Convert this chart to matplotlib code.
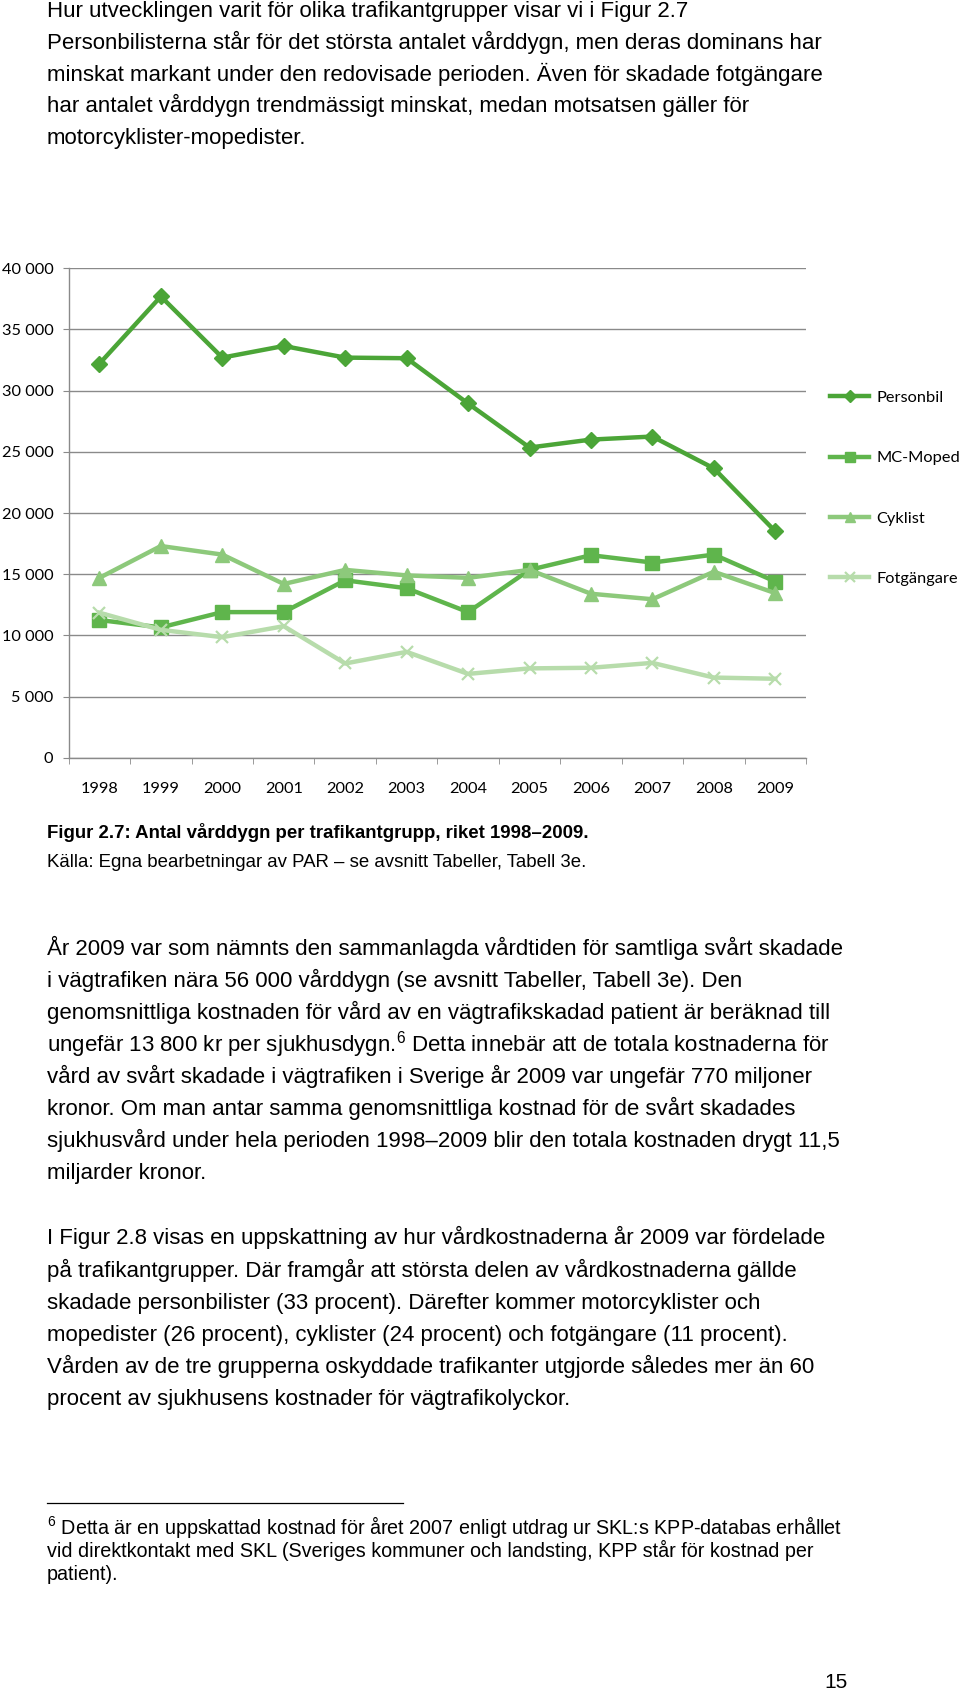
import matplotlib
matplotlib.use('Agg')
import matplotlib.pyplot as plt
from matplotlib.ticker import FuncFormatter, MultipleLocator

# data (vårddygn per trafikantgrupp)
years = ['1998', '1999', '2000', '2001', '2002', '2003',
         '2004', '2005', '2006', '2007', '2008', '2009']
personbil = [32200, 37700, 32700, 33650, 32700, 32650, 28950, 25350, 26000, 26250, 23650, 18500]
mc_moped = [11250, 10650, 11900, 11900, 14500, 13850, 11900, 15350, 16550, 15950, 16600, 14400]
cyklist = [14700, 17300, 16600, 14200, 15350, 14900, 14700, 15350, 13400, 12950, 15200, 13450]
fotgangare = [11850, 10450, 9850, 10750, 7700, 8650, 6850, 7300, 7350, 7750, 6550, 6450]
series_names = ['Personbil', 'MC-Moped', 'Cyklist', 'Fotgängare']

intro_lines = [
    'Hur utvecklingen varit för olika trafikantgrupper visar vi i Figur 2.7',
    'Personbilisterna står för det största antalet vårddygn, men deras dominans har',
    'minskat markant under den redovisade perioden. Även för skadade fotgängare',
    'har antalet vårddygn trendmässigt minskat, medan motsatsen gäller för',
    'motorcyklister-mopedister.',
]
caption = 'Figur 2.7: Antal vårddygn per trafikantgrupp, riket 1998–2009.'
source = 'Källa: Egna bearbetningar av PAR – se avsnitt Tabeller, Tabell 3e.'
para2_lines = [
    'År 2009 var som nämnts den sammanlagda vårdtiden för samtliga svårt skadade',
    'i vägtrafiken nära 56 000 vårddygn (se avsnitt Tabeller, Tabell 3e). Den',
    'genomsnittliga kostnaden för vård av en vägtrafikskadad patient är beräknad till',
    'ungefär 13 800 kr per sjukhusdygn.$^{6}$ Detta innebär att de totala kostnaderna för',
    'vård av svårt skadade i vägtrafiken i Sverige år 2009 var ungefär 770 miljoner',
    'kronor. Om man antar samma genomsnittliga kostnad för de svårt skadades',
    'sjukhusvård under hela perioden 1998–2009 blir den totala kostnaden drygt 11,5',
    'miljarder kronor.',
]
para3_lines = [
    'I Figur 2.8 visas en uppskattning av hur vårdkostnaderna år 2009 var fördelade',
    'på trafikantgrupper. Där framgår att största delen av vårdkostnaderna gällde',
    'skadade personbilister (33 procent). Därefter kommer motorcyklister och',
    'mopedister (26 procent), cyklister (24 procent) och fotgängare (11 procent).',
    'Vården av de tre grupperna oskyddade trafikanter utgjorde således mer än 60',
    'procent av sjukhusens kostnader för vägtrafikolyckor.',
]
footnote_lines = [
    '$^{6}$ Detta är en uppskattad kostnad för året 2007 enligt utdrag ur SKL:s KPP-databas erhållet',
    'vid direktkontakt med SKL (Sveriges kommuner och landsting, KPP står för kostnad per',
    'patient).',
]
page_number = '15'

W, H = 960, 1692
TEXT_FONT = ['Liberation Sans', 'DejaVu Sans']
CHART_FONT = ['Lato', 'DejaVu Sans']

# superscripts via mathtext, in the body font
plt.rcParams['mathtext.fontset'] = 'custom'
plt.rcParams['mathtext.rm'] = 'Liberation Sans'
plt.rcParams['mathtext.it'] = 'Liberation Sans:italic'
plt.rcParams['mathtext.bf'] = 'Liberation Sans:bold'

fig = plt.figure(figsize=(W / 100, H / 100), dpi=100)
fig.patch.set_facecolor('white')


def put_lines(lines, y0, step, size, x=47, weight='normal'):
    # y0/step = line centres in pixels from top of page; draw on baseline
    em = size * 100 / 72
    for i, line in enumerate(lines):
        yb = y0 + i * step + 0.33 * em
        fig.text(x / W, 1 - yb / H, line, fontsize=size,
                 family=TEXT_FONT, weight=weight, va='baseline', ha='left', color='black')


body_size = 16.0
put_lines(intro_lines, 10, 31.7, body_size)
put_lines([caption], 831.7, 0, 13.4, weight='bold')
put_lines([source], 860.7, 0, 13.4)
put_lines(para2_lines, 948, 31.9, body_size)
put_lines(para3_lines, 1237, 32.2, body_size)
put_lines(footnote_lines, 1527, 23, 14.2)
fig.add_artist(plt.Line2D([47 / W, 403 / W], [1 - 1503 / H, 1 - 1503 / H], color='black', lw=0.9))
fig.text(848 / W, 1 - 1682 / H, page_number, fontsize=15, family=TEXT_FONT, ha='right', va='center')

# chart
ax_left, ax_right, ax_top, ax_bottom = 68.7, 806, 268.3, 757.7
ax = fig.add_axes([ax_left / W, 1 - ax_bottom / H, (ax_right - ax_left) / W, (ax_bottom - ax_top) / H])

x = list(range(len(years)))
styles = [
    (personbil, '#4ba537', 'D', 8.5, 1.0),
    (mc_moped, '#5fb54c', 's', 9.5, 1.0),
    (cyklist, '#8dc97b', '^', 10, 1.0),
    (fotgangare, '#b7dcab', 'x', 9, 1.6),
]
handles = []
for (vals, col, mk, ms, mew), name in zip(styles, series_names):
    ln, = ax.plot(x, vals, color=col, lw=3.2, marker=mk, markersize=ms,
                  markeredgewidth=mew, markeredgecolor=col, markerfacecolor=col, label=name)
    handles.append(ln)

ax.set_xlim(-0.5, len(years) - 0.5)
ax.set_ylim(0, 40000)
ax.yaxis.set_major_locator(MultipleLocator(5000))
ax.yaxis.set_major_formatter(FuncFormatter(lambda v, _: f'{v:,.0f}'.replace(',', ' ')))
ax.grid(True, axis='y', color='#8a8a8a', lw=1.0)
ax.set_axisbelow(True)
for s in ['top', 'right']:
    ax.spines[s].set_visible(False)
for s in ['left', 'bottom']:
    ax.spines[s].set_color('#8a8a8a')
    ax.spines[s].set_linewidth(1.0)

ax.set_xticks(x)
ax.set_xticklabels(years)
ax.set_xticks([i - 0.5 for i in range(len(years) + 1)], minor=True)
ax.tick_params(axis='x', which='major', length=0, pad=17.5)
ax.tick_params(axis='x', which='minor', length=4, color='#8a8a8a', direction='out')
ax.tick_params(axis='y', length=4, color='#8a8a8a', pad=7)
for lab in ax.get_xticklabels() + ax.get_yticklabels():
    lab.set_family(CHART_FONT)
    lab.set_fontsize(11.8)
    lab.set_color('black')

fig.legend(handles, series_names, loc='upper left',
           bbox_to_anchor=(830 / W, 1 - 390.5 / H), frameon=False,
           borderpad=0, borderaxespad=0, handlelength=2.4, handletextpad=0.45,
           labelspacing=2.8, markerscale=0.75,
           prop={'family': CHART_FONT, 'size': 11.8})

plt.savefig('out.png', dpi=100)
plt.close()
